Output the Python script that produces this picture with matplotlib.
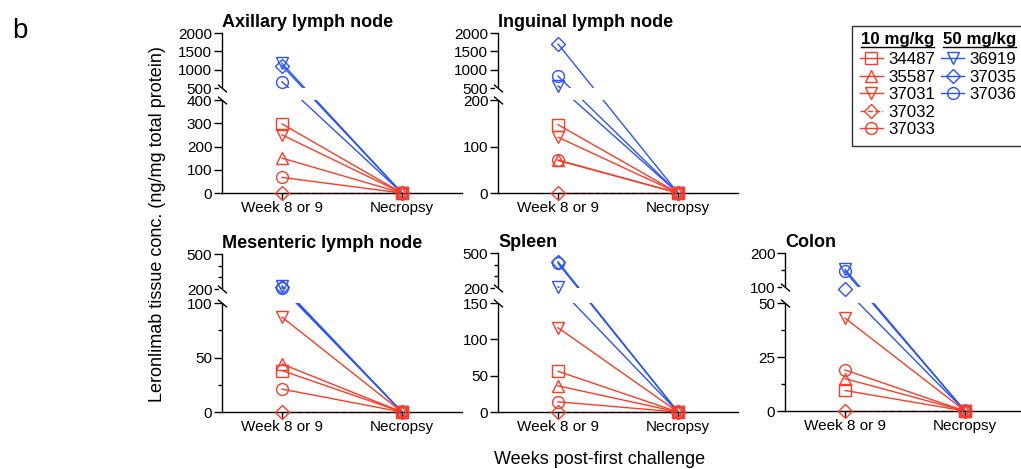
import numpy as np
import matplotlib
matplotlib.use('Agg')
import matplotlib.pyplot as plt
from matplotlib.lines import Line2D

plt.rcParams['font.family'] = ['Liberation Sans', 'DejaVu Sans']

RED = '#ff3b26'
BLUE = '#2a52ff'

TIMEPOINTS = ['Week 8 or 9', 'Necropsy']

ANIMALS_10 = ['34487', '35587', '37031', '37032', '37033']
ANIMALS_50 = ['36919', '37035', '37036']
MARKERS_10 = ['s', '^', 'v', 'D', 'o']
MARKERS_50 = ['v', 'D', 'o']

# Week 8/9 values (ng/mg total protein), same animal order as above
axillary_10 = [297, 150, 250, 0, 67]
axillary_50 = [1170, 1110, 670]
inguinal_10 = [147, 70, 120, 0, 71]
inguinal_50 = [555, 1700, 825]
mesenteric_10 = [38, 44, 87, 0, 21]
mesenteric_50 = [228, 215, 205]
spleen_10 = [56, 36, 116, 0, 14]
spleen_50 = [210, 425, 412]
colon_10 = [9.5, 15, 43, 0, 19]
colon_50 = [152, 93, 146]

# Necropsy values
necropsy_10 = [0, 0, 0, 0, 0]
necropsy_50 = [0, 0, 0]

# tissue, data, break (lower max, upper min, upper max), segment heights, ticks
PANELS = [
    ('Axillary lymph node', axillary_10, axillary_50, (400, 500, 2000), (93, 12, 55),
     [0, 100, 200, 300, 400, 500, 1000, 1500, 2000], []),
    ('Inguinal lymph node', inguinal_10, inguinal_50, (200, 500, 2000), (93, 12, 55),
     [0, 100, 200, 500, 1000, 1500, 2000], []),
    ('Mesenteric lymph node', mesenteric_10, mesenteric_50, (100, 200, 500), (109, 14, 35),
     [0, 50, 100, 200, 500], [25, 75, 300, 400]),
    ('Spleen', spleen_10, spleen_50, (150, 200, 500), (109, 15, 35),
     [0, 50, 100, 150, 200, 500], [300, 400]),
    ('Colon', colon_10, colon_50, (50, 100, 200), (108, 16, 34),
     [0, 25, 50, 100, 200], [12.5, 37.5, 150]),
]

W, H = 1021, 469
# axes placement in pixels: left spine x, y of zero, y of top
POSITIONS = [(222, 193, 33), (498, 193, 33), (222, 412, 254), (498, 412, 253), (785, 411, 253)]
AX_W = 240


def make_scale(brk, hts):
    lo_max, up_min, up_max = brk
    h_lo, gap, h_up = hts
    xp = np.array([0, lo_max, up_min, up_max], float)
    fp = np.array([0, h_lo, h_lo + gap, h_lo + gap + h_up], float)

    def fwd(v):
        v = np.asarray(v, float)
        out = np.interp(v, xp, fp)
        out = np.where(v < 0, v * h_lo / lo_max, out)
        out = np.where(v > up_max, fp[-1] + (v - up_max) * h_up / (up_max - up_min), out)
        return out

    def inv(u):
        u = np.asarray(u, float)
        out = np.interp(u, fp, xp)
        out = np.where(u < 0, u * lo_max / h_lo, out)
        out = np.where(u > fp[-1], up_max + (u - fp[-1]) * (up_max - up_min) / h_up, out)
        return out

    return fwd, inv


fig = plt.figure(figsize=(W / 100, H / 100), dpi=100)

for (title, d10, d50, brk, hts, majors, minors), (x0, y0, y1) in zip(PANELS, POSITIONS):
    ax = fig.add_axes([x0 / W, 1 - y0 / H, AX_W / W, (y0 - y1) / H])
    ax.set_yscale('function', functions=make_scale(brk, hts))
    ax.set_ylim(0, brk[2])
    ax.set_xlim(-0.5, 1.5)

    for vals, necro, color, mks in [(d50, necropsy_50, BLUE, MARKERS_50),
                                    (d10, necropsy_10, RED, MARKERS_10)]:
        for k, (v, n, m) in enumerate(zip(vals, necro, mks)):
            ls = '--' if (color == RED and k == 3) else '-'
            ax.plot([0, 1], [v, n], color=color, lw=1.0, ls=ls, zorder=2, clip_on=False)
            ax.plot([0, 1], [v, n], ls='none', marker=m, ms=7 if m == 'D' else 8.5,
                    mfc='none', mec=color, mew=1.0, zorder=4, clip_on=False)

    # axis break
    ax.axhspan(brk[0], brk[1], xmin=-0.012, xmax=1.0, facecolor='white',
               edgecolor='none', zorder=2.6, clip_on=False)
    ax.plot([0, 0], [brk[0], brk[1]], transform=ax.get_yaxis_transform(), ls='none',
            marker=[(-1, 0.85), (1, -0.85)], ms=6.5, mfc='none', mec='black',
            mew=1.0, zorder=5, clip_on=False)

    ax.set_yticks(majors, [f'{t:g}' for t in majors])
    ax.set_yticks(minors, minor=True)
    ax.set_xticks([0, 1], TIMEPOINTS)

    for s in ['top', 'right']:
        ax.spines[s].set_visible(False)
    for s in ['left', 'bottom']:
        ax.spines[s].set_linewidth(1.0)
    ax.tick_params(axis='y', which='major', length=5.5, width=1.0, pad=1.5, labelsize=11)
    ax.tick_params(axis='y', which='minor', length=3, width=1.0)
    ax.tick_params(axis='x', length=4, width=1.0, pad=2, labelsize=11)
    ax.set_title(title, loc='left', fontsize=13, fontweight='bold', pad=4)

# legend
handles, labels = [Line2D([], [], color='none')], [' ']
for a, m in zip(ANIMALS_10, MARKERS_10):
    ls = '--' if a == '37032' else '-'
    handles.append(Line2D([], [], color=RED, lw=1.0, ls=ls, marker=m,
                          ms=7 if m == 'D' else 8.5, mfc='none', mew=1.0))
    labels.append(a)
handles.append(Line2D([], [], color='none'))
labels.append(' ')
for a, m in zip(ANIMALS_50, MARKERS_50):
    handles.append(Line2D([], [], color=BLUE, lw=1.0, marker=m,
                          ms=7 if m == 'D' else 8.5, mfc='none', mew=1.0))
    labels.append(a)
for _ in range(2):
    handles.append(Line2D([], [], color='none'))
    labels.append(' ')

leg = fig.legend(handles, labels, ncol=2, loc='upper left',
                 bbox_to_anchor=(852 / W, 1 - 26 / H), fontsize=12.2,
                 frameon=True, fancybox=False, edgecolor='#333333', framealpha=1,
                 handlelength=1.3, handletextpad=0.35, columnspacing=0.35,
                 labelspacing=0.15, borderpad=0.5, borderaxespad=0)
leg.get_frame().set_linewidth(1.0)

headers = []
for txt, x in [('10 mg/kg', 861), ('50 mg/kg', 943)]:
    headers.append(fig.text(x / W, 1 - 44 / H, txt, fontsize=12.2, fontweight='bold',
                            va='baseline', ha='left', zorder=6))

fig.text(12 / W, 1 - 38 / H, 'b', fontsize=20, va='baseline')
fig.text(158 / W, 1 - 224 / H, 'Leronlimab tissue conc. (ng/mg total protein)',
         rotation=90, ha='center', va='center', fontsize=13)
fig.text(600 / W, 1 - 459 / H, 'Weeks post-first challenge', ha='center', va='center',
         fontsize=13)

# underline the legend column headers
fig.canvas.draw()
inv = fig.transFigure.inverted()
for t in headers:
    bb = t.get_window_extent().transformed(inv)
    fig.add_artist(Line2D([bb.x0, bb.x1], [bb.y0 + 0.5 / H] * 2, color='black',
                          lw=1.0, zorder=6))

fig.savefig('out.png', dpi=100)
